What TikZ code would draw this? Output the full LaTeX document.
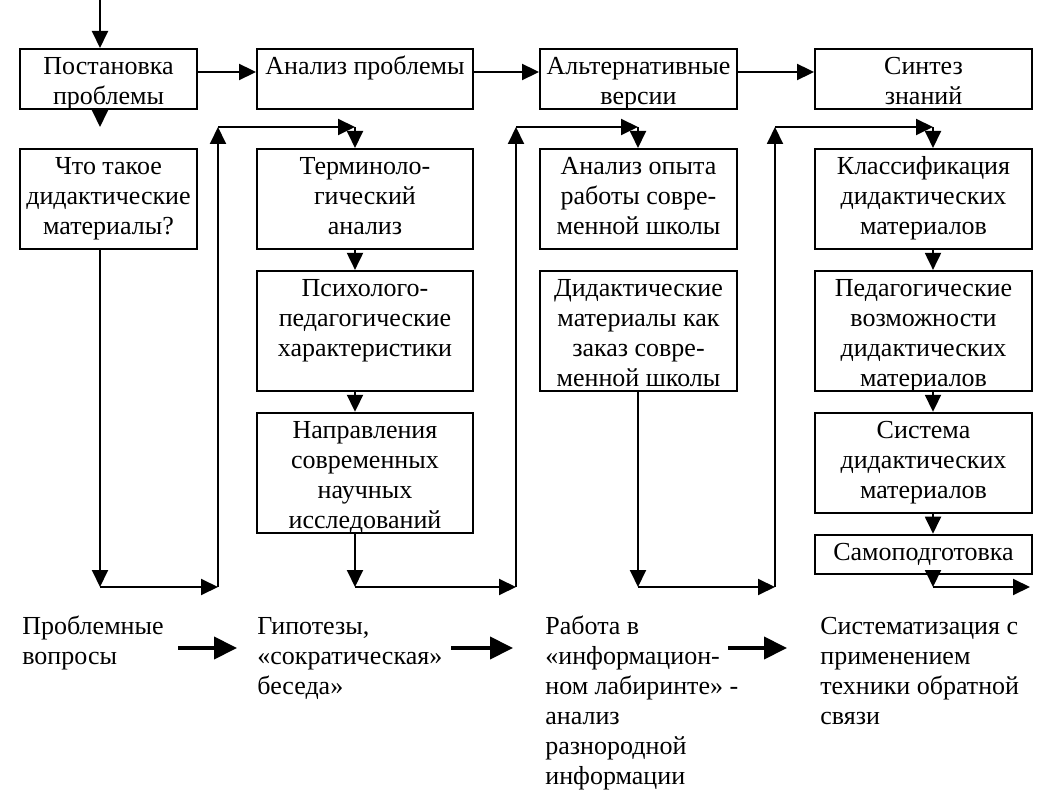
\documentclass[tikz,border=0pt]{standalone}
\usepackage{fontspec}
\setmainfont{Liberation Serif}
\usetikzlibrary{arrows.meta}
\usetikzlibrary{positioning}

\begin{document}
\begin{tikzpicture}[x=0.02cm,y=-0.02cm,
  box/.style={draw,line width=1.1pt,align=center,inner sep=0pt,font=\fontsize{14.8}{17.07}\selectfont},
  oneA/.style={text height=0.52cm,text depth=0.68cm},
  twoA/.style={text height=1.12cm,text depth=0.08cm},
  threeB/.style={text height=1.72cm,text depth=0.28cm},
  threeC/.style={text height=1.72cm,text depth=0.68cm},
  fourC/.style={text height=2.32cm,text depth=0.08cm},
  oneD/.style={text height=0.52cm,text depth=0.26cm},
  colA/.style={box,minimum width=3.54cm},
  colB/.style={box,minimum width=4.32cm},
  colC/.style={box,minimum width=3.94cm},
  colD/.style={box,minimum width=4.34cm},
  arr/.style={line width=1.1pt,-{Triangle[length=0.34cm,width=0.32cm]}},
  fat/.style={line width=2.3pt,-{Triangle[length=0.46cm,width=0.44cm]}},
  note/.style={anchor=north west,inner sep=0pt,align=left,font=\fontsize{14.8}{17.07}\selectfont}]
\useasboundingbox (0,0) rectangle (1051,793);

\node[colA,twoA,anchor=north] (post) at (108.5,48) {Постановка\\проблемы};
\node[colB,oneA,anchor=north] (anal) at (365,48) {Анализ проблемы};
\node[colC,twoA,anchor=north] (alt) at (638.5,48) {Альтернативные\\версии};
\node[colD,twoA,anchor=north] (sint) at (923.5,48) {Синтез\\знаний};

\node[colA,threeB,anchor=north] (vopr) at (108.5,148) {Что такое\\дидактические\\материалы?};
\node[colB,threeB,anchor=north] (term) at (365,148) {Терминоло-\\гический\\анализ};
\node[colB,threeC,below=0.4cm of term] (psih) {Психолого-\\педагогические\\характеристики};
\node[colB,fourC,below=0.4cm of psih] (napr) {Направления\\современных\\научных\\исследований};
\node[colC,threeB,anchor=north] (opyt) at (638.5,148) {Анализ опыта\\работы совре-\\менной школы};
\node[colC,fourC,below=0.4cm of opyt] (zakaz) {Дидактические\\материалы как\\заказ совре-\\менной школы};
\node[colD,threeB,anchor=north] (klass) at (923.5,148) {Классификация\\дидактических\\материалов};
\node[colD,fourC,below=0.4cm of klass] (vozm) {Педагогические\\возможности\\дидактических\\материалов};
\node[colD,threeB,below=0.4cm of vozm] (sist) {Система\\дидактических\\материалов};
\node[colD,oneD,below=0.4cm of sist] (samo) {Самоподготовка};

\node[note] (txtA) at (22,613) {\strut Проблемные\\вопросы};
\node[note] (txtB) at (257,613) {\strut Гипотезы,\\«сократическая»\\беседа»};
\node[note] (txtC) at (545,613) {\strut Работа в\\«информацион-\\ном лабиринте» -\\анализ\\разнородной\\информации};
\node[note] (txtD) at (820,613) {\strut Систематизация с\\применением\\техники обратной\\связи};

\coordinate (xA) at (100,0);
\coordinate (xB) at (355,0);
\coordinate (xC) at (638,0);
\coordinate (xD) at (933,0);
\coordinate (row) at (0,72);
\coordinate (downA) at (100,127);
\coordinate (botA) at (100,587);
\coordinate (botB) at (355,587);
\coordinate (botC) at (638,587);
\coordinate (botD) at (933,587);
\coordinate (upB) at (218,587);
\coordinate (upC) at (516,587);
\coordinate (upD) at (775,587);
\coordinate (endD) at (1030,587);
\coordinate (topB) at (218,127);
\coordinate (topC) at (516,127);
\coordinate (topD) at (775,127);
\coordinate (cornB) at (355,127);
\coordinate (cornC) at (638,127);
\coordinate (cornD) at (933,127);

\draw[arr] (xA) -- (post.north -| xA);
\draw[arr] (post.east |- row) -- (anal.west |- row);
\draw[arr] (anal.east |- row) -- (alt.west |- row);
\draw[arr] (alt.east |- row) -- (sint.west |- row);
\draw[arr] (post.south -| xA) -- (downA);

\draw[arr] (vopr.south -| xA) -- (botA);
\draw[arr] (botA) -- (upB);
\draw[arr] (upB) -- (topB);
\draw[arr] (topB) -- (cornB);
\draw[arr] (cornB) -- (term.north -| xB);
\draw[arr] (term.south -| xB) -- (psih.north -| xB);
\draw[arr] (psih.south -| xB) -- (napr.north -| xB);

\draw[arr] (napr.south -| xB) -- (botB);
\draw[arr] (botB) -- (upC);
\draw[arr] (upC) -- (topC);
\draw[arr] (topC) -- (cornC);
\draw[arr] (cornC) -- (opyt.north -| xC);

\draw[arr] (zakaz.south -| xC) -- (botC);
\draw[arr] (botC) -- (upD);
\draw[arr] (upD) -- (topD);
\draw[arr] (topD) -- (cornD);
\draw[arr] (cornD) -- (klass.north -| xD);
\draw[arr] (klass.south -| xD) -- (vozm.north -| xD);
\draw[arr] (vozm.south -| xD) -- (sist.north -| xD);
\draw[arr] (sist.south -| xD) -- (samo.north -| xD);
\draw[arr] (samo.south -| xD) -- (botD);
\draw[arr] (botD) -- (endD);

\coordinate (fA1) at (178,648);
\coordinate (fA2) at (237,648);
\coordinate (fB1) at (451,648);
\coordinate (fB2) at (513,648);
\coordinate (fC1) at (728,648);
\coordinate (fC2) at (787,648);
\draw[fat] (fA1) -- (fA2);
\draw[fat] (fB1) -- (fB2);
\draw[fat] (fC1) -- (fC2);

\end{tikzpicture}
\end{document}
